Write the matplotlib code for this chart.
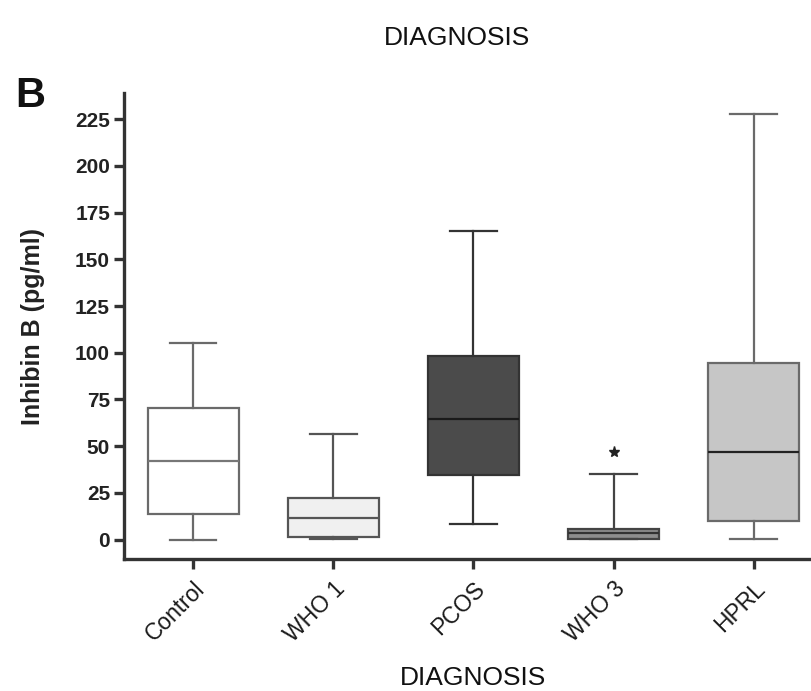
import matplotlib
matplotlib.use("Agg")
import matplotlib.pyplot as plt

plt.rcParams['font.family'] = ['Liberation Sans', 'DejaVu Sans']

categories = ["Control", "WHO 1", "PCOS", "WHO 3", "HPRL"]
whisk_low = [0, 0.4, 8.3, 0.4, 0.3]
q1 = [13.5, 1.5, 34.5, 0.4, 9.9]
medians = [42, 11.3, 64.3, 3.3, 47]
q3 = [70.2, 22.4, 98.2, 5.5, 94.7]
whisk_high = [105, 56.5, 165, 35.2, 227.8]
outliers = [[], [], [], [47], []]
fills = ["#ffffff", "#f0f0f0", "#4b4b4b", "#8e8e8e", "#c6c6c6"]
edges = ["#6a6a6a", "#555555", "#333333", "#444444", "#6a6a6a"]
median_colors = ["#777777", "#555555", "#1a1a1a", "#333333", "#222222"]
yticks = [0, 25, 50, 75, 100, 125, 150, 175, 200, 225]

W, H = 811, 691
fig = plt.figure(figsize=(W / 100, H / 100), dpi=100)
ax = fig.add_axes([124 / W, 1 - 559.3 / H, 1 - 124 / W, (559.3 - 93.3) / H])

stats = []
for i, c in enumerate(categories):
    stats.append(dict(label=c, whislo=whisk_low[i], q1=q1[i], med=medians[i],
                      q3=q3[i], whishi=whisk_high[i], fliers=outliers[i]))

for i, s in enumerate(stats):
    ax.bxp([s], positions=[i], widths=0.645, capwidths=0.33, patch_artist=True,
           showfliers=True,
           boxprops=dict(facecolor=fills[i], edgecolor=edges[i], linewidth=1.6),
           medianprops=dict(color=median_colors[i], linewidth=1.6),
           whiskerprops=dict(color=edges[i], linewidth=1.6),
           capprops=dict(color=edges[i], linewidth=1.6),
           flierprops=dict(marker='*', markersize=8, markerfacecolor='#222222',
                           markeredgecolor='#222222', linestyle='none'))

ax.set_xlim(-0.495, 4.41)
ax.set_ylim(-10.6, 238.9)
ax.set_yticks(yticks)
ax.set_yticklabels([str(v) for v in yticks], fontsize=15, fontweight='bold', color='#222222')
ax.set_xticks(range(len(categories)))
ax.set_xticklabels(categories, rotation=45, ha='right', va='top',
                   rotation_mode='anchor', fontsize=16.5, color='#1a1a1a')
for sp in ['top', 'right']:
    ax.spines[sp].set_visible(False)
for sp in ['left', 'bottom']:
    ax.spines[sp].set_linewidth(2.4)
    ax.spines[sp].set_color('#333333')
ax.tick_params(axis='both', direction='out', length=7, width=2.4, color='#333333')
ax.tick_params(axis='x', pad=6)
ax.tick_params(axis='y', pad=3)

ax.set_ylabel("Inhibin B (pg/ml)", fontsize=18, fontweight='bold', color='#222222', labelpad=22)

fig.text(473 / W, 1 - 678 / H, "DIAGNOSIS", ha='center', va='center', fontsize=19, color='#111111')
fig.text(457 / W, 1 - 38 / H, "DIAGNOSIS", ha='center', va='center', fontsize=19, color='#111111')
fig.text(15 / W, 1 - 107 / H, "B", ha='left', va='baseline', fontsize=30, fontweight='bold', color='#111111')

fig.savefig("out.png", dpi=100)
